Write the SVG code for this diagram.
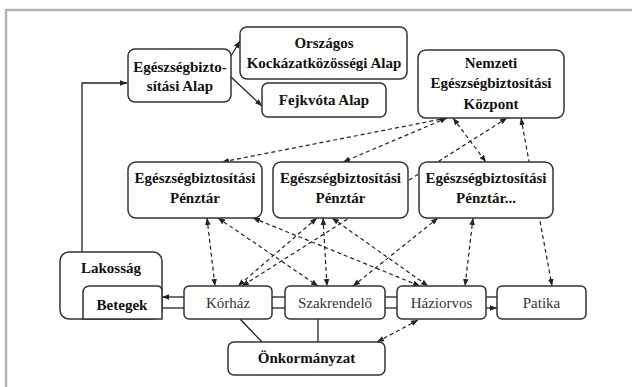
<svg xmlns="http://www.w3.org/2000/svg" width="632" height="387" viewBox="0 0 632 387">
<style>
.box{fill:#fff;stroke:#333;stroke-width:1.5}
.b{font-family:"Liberation Serif",serif;font-weight:bold;font-size:15px;fill:#111;text-anchor:middle}
.n{font-family:"Liberation Serif",serif;font-size:15px;fill:#333;text-anchor:middle}
.d{fill:none;stroke:#222;stroke-width:1.2;stroke-dasharray:4,3}
.s{fill:none;stroke:#222;stroke-width:1.3}
</style>
<defs>
<marker id="ah" viewBox="0 0 10 10" refX="10" refY="5" markerWidth="7" markerHeight="7" markerUnits="userSpaceOnUse" orient="auto-start-reverse"><path d="M0,1 L10,5 L0,9 z" fill="#222"/></marker>
</defs>
<rect x="0" y="0" width="632" height="387" fill="#fff"/>
<rect x="6" y="10" width="640" height="400" fill="none" stroke="#b4b4b4" stroke-width="2.5"/>
<g id="connectors">
<line class="d" x1="447" y1="118" x2="222" y2="162" marker-start="url(#ah)" marker-end="url(#ah)"/>
<line class="d" x1="447" y1="118" x2="343" y2="162" marker-start="url(#ah)" marker-end="url(#ah)"/>
<line class="d" x1="453" y1="118" x2="486" y2="162" marker-start="url(#ah)" marker-end="url(#ah)"/>
<line class="d" x1="507" y1="118" x2="242" y2="286" marker-start="url(#ah)" marker-end="url(#ah)"/>
<line class="d" x1="521" y1="118" x2="552" y2="286" marker-start="url(#ah)" marker-end="url(#ah)"/>
<line class="d" x1="207" y1="218" x2="215" y2="286" marker-start="url(#ah)" marker-end="url(#ah)"/>
<line class="d" x1="218" y1="218" x2="318" y2="286" marker-start="url(#ah)" marker-end="url(#ah)"/>
<line class="d" x1="253" y1="218" x2="420" y2="286" marker-start="url(#ah)" marker-end="url(#ah)"/>
<line class="d" x1="317" y1="218" x2="238" y2="286" marker-start="url(#ah)" marker-end="url(#ah)"/>
<line class="d" x1="323" y1="218" x2="327" y2="286" marker-start="url(#ah)" marker-end="url(#ah)"/>
<line class="d" x1="332" y1="218" x2="428" y2="286" marker-start="url(#ah)" marker-end="url(#ah)"/>
<line class="d" x1="438" y1="218" x2="353" y2="286" marker-start="url(#ah)" marker-end="url(#ah)"/>
<line class="d" x1="473" y1="218" x2="465" y2="286" marker-start="url(#ah)" marker-end="url(#ah)"/>
<line class="d" x1="418" y1="320" x2="377" y2="342" marker-start="url(#ah)" marker-end="url(#ah)"/>
<polyline class="s" points="82,252 82,83 127,83" marker-end="url(#ah)"/>
<line class="s" x1="231" y1="56" x2="240" y2="41" marker-end="url(#ah)"/>
<line class="s" x1="231" y1="77" x2="262" y2="106" marker-end="url(#ah)"/>
<line class="s" x1="184" y1="297" x2="162" y2="297" marker-end="url(#ah)"/>
<line class="s" x1="162" y1="308" x2="184" y2="308"/>
<line class="s" x1="272" y1="297" x2="285" y2="297"/>
<line class="s" x1="272" y1="308" x2="285" y2="308"/>
<line class="s" x1="385" y1="297" x2="397" y2="297"/>
<line class="s" x1="385" y1="308" x2="397" y2="308"/>
<line class="s" x1="486" y1="297" x2="497" y2="297"/>
<line class="s" x1="486" y1="308" x2="497" y2="308" marker-end="url(#ah)"/>
<line class="s" x1="240" y1="319" x2="262" y2="342"/>
<line class="s" x1="318" y1="319" x2="318" y2="342"/>
</g>
<g id="egeszsegbiztositasi-alap">
<rect class="box" x="128" y="49" width="103" height="53" rx="7"/>
<text class="b" x="180" y="72">Egészségbizto-</text>
<text class="b" x="180" y="91">sítási Alap</text>
</g>
<g id="orszagos-alap">
<rect class="box" x="240" y="27" width="167" height="52" rx="7"/>
<text class="b" x="324" y="48">Országos</text>
<text class="b" x="324" y="68">Kockázatközösségi Alap</text>
</g>
<g id="fejkvota-alap">
<rect class="box" x="262" y="83" width="124" height="34" rx="6"/>
<text class="b" x="324" y="105">Fejkvóta Alap</text>
</g>
<g id="nemzeti">
<rect class="box" x="418" y="50" width="146" height="68" rx="8"/>
<text class="b" x="491" y="68">Nemzeti</text>
<text class="b" x="491" y="88">Egészségbiztosítási</text>
<text class="b" x="491" y="109">Központ</text>
</g>
<g id="penztar-1">
<rect class="box" x="128" y="162" width="134" height="56" rx="8"/>
<text class="b" x="195" y="183">Egészségbiztosítási</text>
<text class="b" x="195" y="203">Pénztár</text>
</g>
<g id="penztar-2">
<rect class="box" x="273" y="162" width="135" height="56" rx="8"/>
<text class="b" x="340.5" y="183">Egészségbiztosítási</text>
<text class="b" x="340.5" y="203">Pénztár</text>
</g>
<g id="penztar-3">
<rect class="box" x="419" y="162" width="134" height="56" rx="8"/>
<text class="b" x="486" y="183">Egészségbiztosítási</text>
<text class="b" x="486" y="203">Pénztár...</text>
</g>
<g id="lakossag">
<rect class="box" x="60" y="252" width="102" height="67" rx="9"/>
<text class="b" x="111" y="273">Lakosság</text>
</g>
<g id="betegek">
<path class="box" d="M83,319 L83,293 Q83,286 90,286 L157,286 Q162,286 162,291 L162,319 Z"/>
<text class="b" x="122" y="310">Betegek</text>
</g>
<g id="korhaz">
<rect class="box" x="184" y="286" width="88" height="33" rx="5"/>
<text class="n" x="228" y="308">Kórház</text>
</g>
<g id="szakrendelo">
<rect class="box" x="285" y="286" width="100" height="33" rx="5"/>
<text class="n" x="335" y="308">Szakrendelő</text>
</g>
<g id="haziorvos">
<rect class="box" x="397" y="286" width="89" height="33" rx="5"/>
<text class="n" x="441.5" y="308">Háziorvos</text>
</g>
<g id="patika">
<rect class="box" x="497" y="286" width="89" height="33" rx="5"/>
<text class="n" x="541.5" y="308">Patika</text>
</g>
<g id="onkormanyzat">
<rect class="box" x="228" y="342" width="157" height="33" rx="6"/>
<text class="b" x="306.5" y="363">Önkormányzat</text>
</g>
</svg>
